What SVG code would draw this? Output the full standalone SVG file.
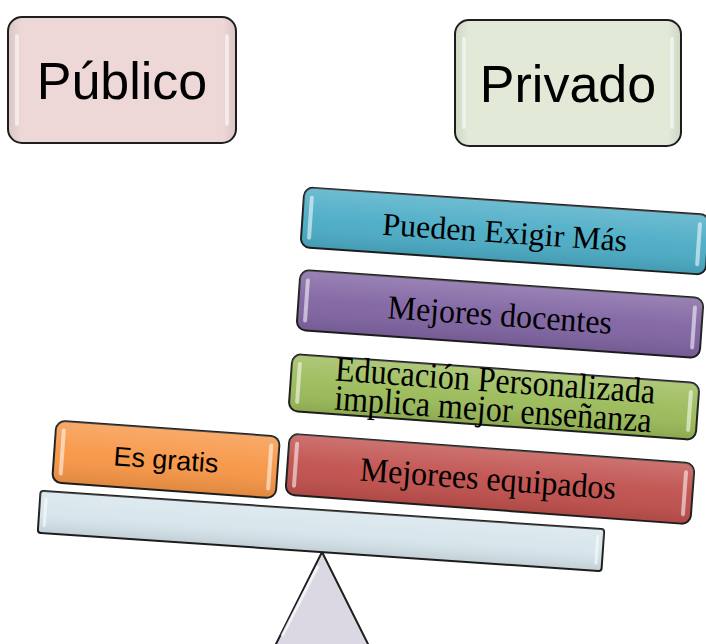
<svg xmlns="http://www.w3.org/2000/svg" width="706" height="644" viewBox="0 0 706 644">
<defs>
<linearGradient id="gloss" x1="0" y1="0" x2="0" y2="1">
<stop offset="0" stop-color="#fff" stop-opacity="0.2"/>
<stop offset="0.5" stop-color="#fff" stop-opacity="0.04"/>
<stop offset="1" stop-color="#000" stop-opacity="0.1"/>
</linearGradient>
<linearGradient id="side" x1="0" y1="0" x2="1" y2="0">
<stop offset="0" stop-color="#000" stop-opacity="0.08"/>
<stop offset="0.06" stop-color="#000" stop-opacity="0"/>
<stop offset="0.94" stop-color="#000" stop-opacity="0"/>
<stop offset="1" stop-color="#000" stop-opacity="0.08"/>
</linearGradient>
</defs>
<style>
.box{stroke:#1e1e1e;stroke-width:2}
.ov{fill:url(#gloss)}
.sd{fill:url(#side)}
.hl{fill:#fff;opacity:0.55}
.sans{font-family:"Liberation Sans",Arial,sans-serif;fill:#000;text-anchor:middle}
.serif{font-family:"Liberation Serif","Times New Roman",serif;fill:#000;text-anchor:middle;font-size:32px}
</style>

<g id="publico">
<rect class="box" x="8" y="17" width="228" height="126" rx="14" fill="#edd7d7"/>
<rect class="sd" x="8" y="17" width="228" height="126" rx="14"/>
<rect class="hl" x="15" y="34" width="4" height="92" rx="2"/>
<rect class="hl" x="225" y="34" width="4" height="92" rx="2"/>
<text class="sans" x="122" y="99" font-size="52">Público</text>
</g>

<g id="privado">
<rect class="box" x="455" y="20" width="226" height="126" rx="14" fill="#e2e9d6"/>
<rect class="sd" x="455" y="20" width="226" height="126" rx="14"/>
<rect class="hl" x="462" y="37" width="4" height="92" rx="2"/>
<rect class="hl" x="670" y="37" width="4" height="92" rx="2"/>
<text class="sans" x="568" y="102" font-size="52">Privado</text>
</g>

<g id="fulcrum">
<path class="box" d="M322,552 L376,660 L268,660 Z" fill="#dbd8e4"/>
<path d="M318,566 L282,636" stroke="#fff" stroke-width="3" opacity="0.7" fill="none"/>
</g>

<g id="beam" transform="rotate(3.9 321 531)">
<rect class="box" x="38.5" y="510" width="565" height="42" rx="3" fill="#d6e5ec"/>
<rect class="ov" x="38.5" y="510" width="565" height="42" rx="3"/>
<rect class="hl" x="43" y="516" width="3" height="30" rx="1.5"/>
<rect class="hl" x="596" y="516" width="3" height="30" rx="1.5"/>
</g>

<g id="es-gratis" transform="rotate(4.1 166 459.5)">
<rect class="box" x="54" y="428.5" width="224" height="62" rx="9" fill="#f79646"/>
<rect class="ov" x="54" y="428.5" width="224" height="62" rx="9"/>
<rect class="hl" x="60" y="436" width="4" height="47" rx="2"/>
<rect class="hl" x="268" y="436" width="4" height="47" rx="2"/>
<text class="sans" x="166" y="469" font-size="27" textLength="105" lengthAdjust="spacingAndGlyphs">Es gratis</text>
</g>

<g id="mejorees-equipados" transform="rotate(4.2 490 479)">
<rect class="box" x="287" y="448.5" width="406" height="61" rx="9" fill="#c0504d"/>
<rect class="ov" x="287" y="448.5" width="406" height="61" rx="9"/>
<rect class="hl" x="293" y="456" width="4" height="46" rx="2"/>
<rect class="hl" x="683" y="456" width="4" height="46" rx="2"/>
<text class="serif" transform="translate(488 490) scale(1 1.06)">Mejorees equipados</text>
</g>

<g id="educacion" transform="rotate(4.1 494 397)">
<rect class="box" x="290" y="368.5" width="408" height="57" rx="9" fill="#9bbb59"/>
<rect class="ov" x="290" y="368.5" width="408" height="57" rx="9"/>
<rect class="hl" x="296" y="376" width="4" height="42" rx="2"/>
<rect class="hl" x="688" y="376" width="4" height="42" rx="2"/>
<text class="serif" transform="translate(494 392) scale(1 1.12)">Educación Personalizada</text>
<text class="serif" transform="translate(494 421) scale(1 1.12)">implica mejor enseñanza</text>
</g>

<g id="mejores-docentes" transform="rotate(4 500 314)">
<rect class="box" x="298" y="284" width="404" height="60" rx="9" fill="#8064a2"/>
<rect class="ov" x="298" y="284" width="404" height="60" rx="9"/>
<rect class="hl" x="304" y="292" width="4" height="44" rx="2"/>
<rect class="hl" x="692" y="292" width="4" height="44" rx="2"/>
<text class="serif" transform="translate(500 326) scale(1 1.05)">Mejores docentes</text>
</g>

<g id="pueden-exigir" transform="rotate(3.9 505 231)">
<rect class="box" x="302" y="201" width="406" height="60" rx="9" fill="#4bacc6"/>
<rect class="ov" x="302" y="201" width="406" height="60" rx="9"/>
<rect class="hl" x="308" y="209" width="4" height="44" rx="2"/>
<rect class="hl" x="697" y="209" width="4" height="44" rx="2"/>
<text class="serif" x="505" y="243">Pueden Exigir Más</text>
</g>

<g id="connectors"/>
</svg>
